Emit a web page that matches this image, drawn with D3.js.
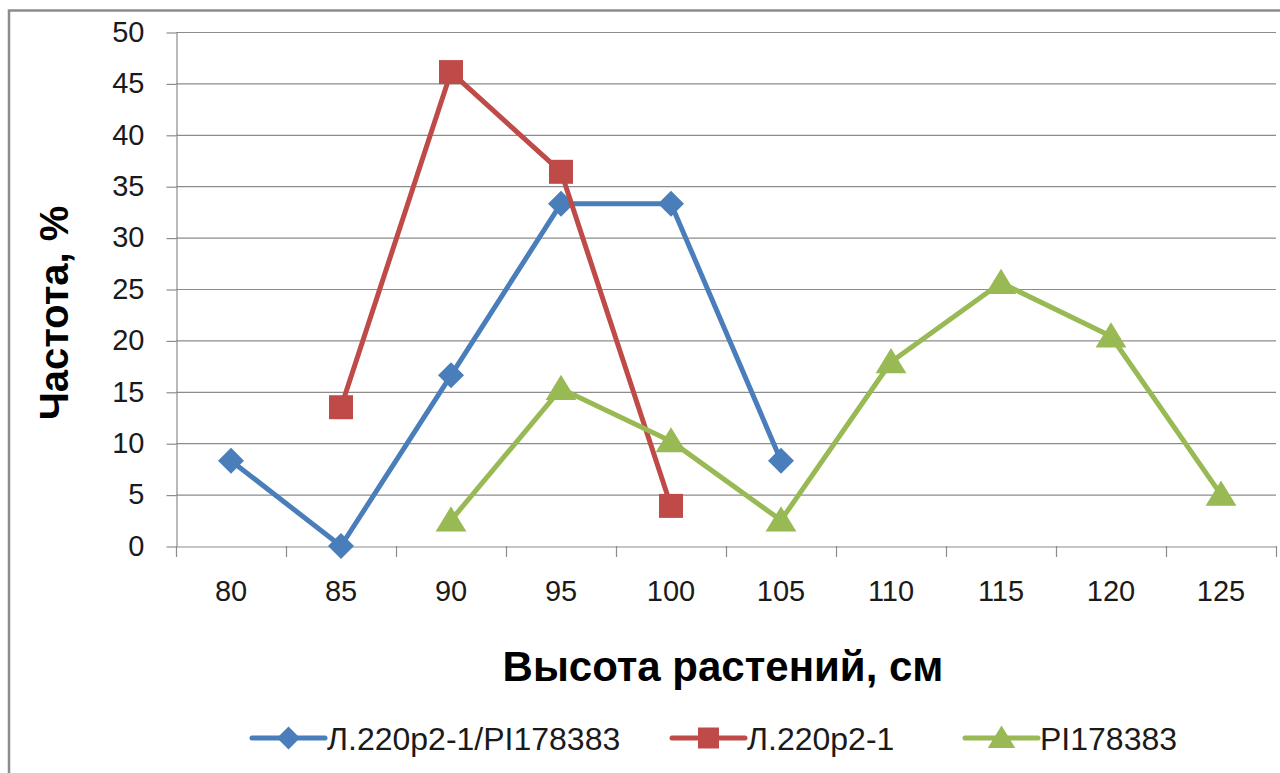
<!DOCTYPE html>
<html><head><meta charset="utf-8">
<script src="https://cdn.jsdelivr.net/npm/d3@7"></script>
<style>body{margin:0;background:#fff}svg{display:block}</style>
</head><body>
<svg id="c" width="1280" height="773"></svg>
<script>
const categories = [80, 85, 90, 95, 100, 105, 110, 115, 120, 125];
const yTicks = [0, 5, 10, 15, 20, 25, 30, 35, 40, 45, 50];
const seriesNames = ["Л.220р2-1/PI178383", "Л.220р2-1", "PI178383"];
const hybridValues = [8.3, 0, 16.6, 33.3, 33.3, 8.3, null, null, null, null];
const parentValues = [null, 13.5, 46.1, 36.4, 3.9, null, null, null, null, null];
const piValues = [null, null, 2.5, 15.3, 10.2, 2.5, 17.9, 25.6, 20.4, 5.0];
const colors = ["#4A7EBB", "#BE4B48", "#98B954"];
const markers = ["diamond", "square", "triangle"];
const xTitle = "Высота растений, см";
const yTitle = "Частота, %";

const svg = d3.select("#c");
const font = "'Liberation Sans', Arial, sans-serif";
const L = 176, R = 1276, T = 32, B = 546;

// outer border
svg.append("rect").attr("x", 9).attr("y", 10.5).attr("width", 1290).attr("height", 800)
  .attr("fill", "none").attr("stroke", "#8c8c8c").attr("stroke-width", 2.5);

const x = d3.scaleBand().domain(categories).range([L, R]);
const y = d3.scaleLinear().domain([0, 50]).range([B, T]);

// gridlines
svg.append("g").selectAll("line").data(yTicks.filter(d => d > 0)).join("line")
  .attr("x1", L).attr("x2", R).attr("y1", d => y(d) + 0.5).attr("y2", d => y(d) + 0.5)
  .attr("stroke", "#8c8c8c").attr("stroke-width", 1.2);

// y axis
const yAxis = svg.append("g").attr("transform", `translate(${L + 0.5},0)`)
  .call(d3.axisLeft(y).tickValues(yTicks).tickSize(10).tickPadding(22).tickSizeOuter(0));
yAxis.select(".domain").attr("stroke", "#8c8c8c").attr("stroke-width", 1.2);
yAxis.selectAll(".tick line").attr("stroke", "#8c8c8c").attr("stroke-width", 1.2).attr("transform", "translate(0,0.5)");
yAxis.selectAll("text").attr("font-family", font).attr("font-size", 29).attr("fill", "#1a1a1a");

// x axis
const xAxis = svg.append("g").attr("transform", `translate(0,${B + 0.5})`)
  .call(d3.axisBottom(x).tickSize(0).tickPadding(34));
xAxis.select(".domain").attr("stroke", "#8c8c8c").attr("stroke-width", 1.2);
xAxis.selectAll("text").attr("font-family", font).attr("font-size", 29).attr("fill", "#1a1a1a");
// band boundary ticks
const bounds = categories.map(c => x(c)).concat([R]);
svg.append("g").selectAll("line").data(bounds).join("line")
  .attr("x1", d => d + 0.5).attr("x2", d => d + 0.5).attr("y1", B).attr("y2", B + 11)
  .attr("stroke", "#8c8c8c").attr("stroke-width", 1.2);

// titles
svg.append("text").attr("x", 723).attr("y", 681).attr("text-anchor", "middle")
  .attr("font-family", font).attr("font-weight", "bold").attr("font-size", 42).attr("fill", "#000").text(xTitle);
svg.append("text").attr("transform", "translate(68,313) rotate(-90)").attr("text-anchor", "middle")
  .attr("font-family", font).attr("font-weight", "bold").attr("font-size", 40).attr("fill", "#000").text(yTitle);

function markerPath(type, size) {
  const s = size / 2;
  if (type === "diamond") return `M0,${-s}L${s},0L0,${s}L${-s},0Z`;
  if (type === "square") return `M${-s},${-s}H${s}V${s}H${-s}Z`;
  return `M0,${-s}L${s * 1.1},${s * 0.8}H${-s * 1.1}Z`;
}
const markerSize = [26, 24, 28];

const allSeries = [hybridValues, parentValues, piValues];
const cx = c => x(c) + x.bandwidth() / 2;
allSeries.forEach((vals, i) => {
  const pts = categories.map((c, j) => ({ c, v: vals[j] })).filter(d => d.v !== null);
  const line = d3.line().x(d => cx(d.c)).y(d => y(d.v));
  svg.append("path").datum(pts).attr("d", line).attr("fill", "none")
    .attr("stroke", colors[i]).attr("stroke-width", 5).attr("stroke-linejoin", "round").attr("stroke-linecap", "round");
  svg.append("g").selectAll("path").data(pts).join("path")
    .attr("transform", d => `translate(${cx(d.c)},${y(d.v)})`)
    .attr("d", markerPath(markers[i], markerSize[i])).attr("fill", colors[i]);
});

// legend
const legendX = [252, 672, 965];
const ly = 738;
seriesNames.forEach((name, i) => {
  const g = svg.append("g").attr("transform", `translate(${legendX[i]},${ly})`);
  g.append("line").attr("x1", 0).attr("x2", 73).attr("y1", 0).attr("y2", 0)
    .attr("stroke", colors[i]).attr("stroke-width", 5).attr("stroke-linecap", "round");
  g.append("path").attr("transform", "translate(36.5,0)").attr("d", markerPath(markers[i], markerSize[i] - 3)).attr("fill", colors[i]);
  g.append("text").attr("x", 75).attr("y", 0).attr("dy", "0.36em").attr("font-family", font)
    .attr("font-size", 32).attr("fill", "#1a1a1a").text(name);
});
</script>
</body></html>
